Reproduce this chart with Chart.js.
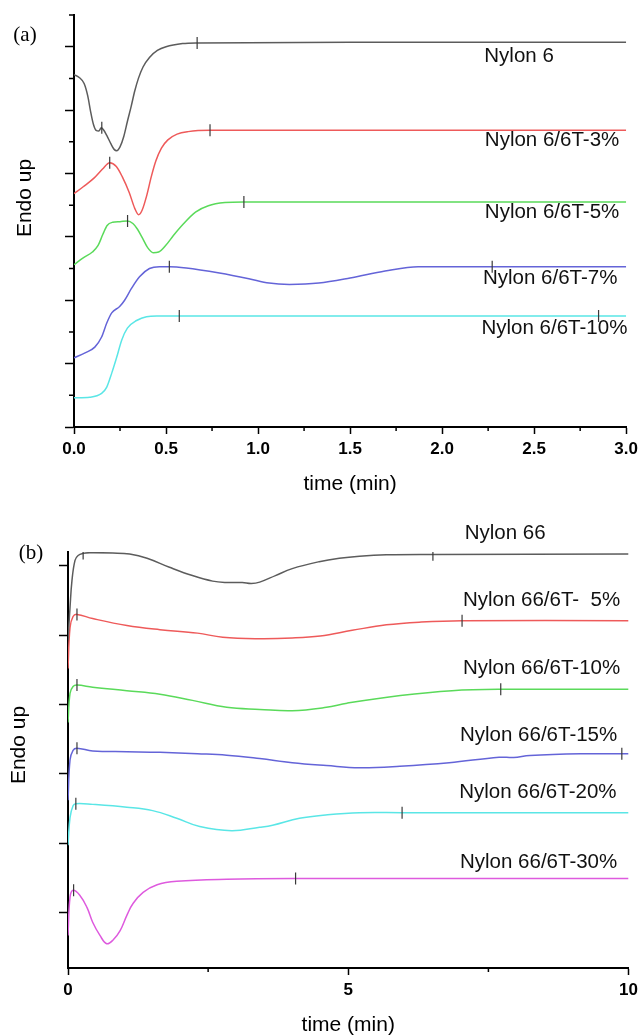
<!DOCTYPE html>
<html><head><meta charset="utf-8">
<script src="https://cdn.jsdelivr.net/npm/chart.js@4"></script>
<style>
html,body{margin:0;padding:0;background:#fff;}
#wrap{position:relative;width:643px;height:1036px;overflow:hidden;}
canvas{position:absolute;left:0;}
#cA{top:0}
#cB{top:500px}
</style></head><body>
<div id="wrap"><canvas id="cA" width="643" height="500"></canvas><canvas id="cB" width="643" height="536"></canvas></div>
<script>
// ---------- Panel (a): time (min) vs heat flow (Endo up, arbitrary offsets) ----------
const nylon6 = [[0,5.56],[0.03,5.51],[0.055,5.42],[0.075,5.22],[0.09,4.98],[0.105,4.78],[0.12,4.68],[0.135,4.67],[0.148,4.72],[0.16,4.69],[0.178,4.6],[0.2,4.47],[0.218,4.38],[0.232,4.36],[0.25,4.42],[0.27,4.58],[0.29,4.82],[0.31,5.05],[0.33,5.3],[0.35,5.5],[0.375,5.68],[0.41,5.83],[0.453,5.94],[0.5,6.0],[0.59,6.05],[0.67,6.06],[1.5,6.07],[3.0,6.07]];
const nylon6T3 = [[0,3.68],[0.05,3.79],[0.11,3.93],[0.155,4.07],[0.194,4.17],[0.23,4.11],[0.262,3.95],[0.3,3.7],[0.33,3.45],[0.351,3.35],[0.37,3.42],[0.395,3.65],[0.42,3.95],[0.445,4.2],[0.475,4.4],[0.51,4.53],[0.56,4.62],[0.62,4.66],[0.74,4.68],[3.0,4.68]];
const nylon6T5 = [[0,2.56],[0.05,2.67],[0.1,2.76],[0.13,2.86],[0.157,3.04],[0.18,3.18],[0.21,3.23],[0.25,3.24],[0.29,3.25],[0.32,3.21],[0.345,3.12],[0.37,2.99],[0.4,2.83],[0.43,2.75],[0.46,2.76],[0.5,2.87],[0.54,3.02],[0.59,3.19],[0.66,3.39],[0.73,3.49],[0.82,3.54],[0.92,3.55],[3.0,3.55]];
const nylon6T7 = [[0,1.09],[0.06,1.17],[0.113,1.26],[0.15,1.42],[0.178,1.64],[0.205,1.80],[0.248,1.90],[0.275,2.0],[0.313,2.19],[0.356,2.37],[0.41,2.5],[0.464,2.53],[0.52,2.53],[0.61,2.51],[0.79,2.43],[0.95,2.34],[1.06,2.27],[1.17,2.25],[1.33,2.27],[1.5,2.35],[1.69,2.46],[1.87,2.53],[2.05,2.53],[3.0,2.53]];
const nylon6T10 = [[0,0.46],[0.086,0.47],[0.15,0.53],[0.178,0.63],[0.205,0.85],[0.232,1.1],[0.259,1.37],[0.29,1.56],[0.34,1.68],[0.394,1.74],[0.45,1.75],[0.57,1.75],[3.0,1.75]];
const markersA = [[0.151,4.72],[0.669,6.06],[0.194,4.17],[0.739,4.68],[0.291,3.25],[0.923,3.55],[0.518,2.53],[2.272,2.53],[0.572,1.75],[2.85,1.75]];
const namesA = ['Nylon 6','Nylon 6/6T-3%','Nylon 6/6T-5%','Nylon 6/6T-7%','Nylon 6/6T-10%'];
const xTicksA = [0,0.5,1.0,1.5,2.0,2.5,3.0];
const xMinorA = [0.25,0.75,1.25,1.75,2.25,2.75];
const yTicksA = [0,1,2,3,4,5,6];
const yMinorA = [0.5,1.5,2.5,3.5,4.5,5.5,6.5];

// ---------- Panel (b) ----------
const nylon66 = [[0,4.93],[0.036,5.40],[0.071,5.79],[0.125,6.08],[0.18,6.15],[0.27,6.18],[0.39,6.19],[0.8,6.185],[1.1,6.17],[1.41,6.11],[1.81,5.98],[2.22,5.86],[2.58,5.78],[2.83,5.76],[3.11,5.76],[3.27,5.745],[3.42,5.765],[3.7,5.86],[4.0,5.96],[4.48,6.06],[4.84,6.11],[5.2,6.14],[5.68,6.16],[6.51,6.165],[10,6.17]];
const nylon66T5 = [[0,4.52],[0.036,5.11],[0.09,5.27],[0.16,5.30],[0.44,5.24],[1.05,5.14],[1.64,5.08],[2.31,5.03],[2.76,4.97],[3.42,4.95],[4.0,4.96],[4.5,4.99],[5.07,5.07],[5.68,5.15],[6.3,5.19],[7.03,5.21],[10,5.21]];
const nylon66T10 = [[0,3.74],[0.036,4.16],[0.09,4.26],[0.16,4.28],[0.44,4.25],[1.05,4.20],[1.64,4.15],[2.22,4.06],[2.83,3.96],[3.42,3.93],[4.0,3.91],[4.61,3.96],[4.98,4.02],[5.93,4.13],[6.85,4.20],[7.72,4.22],[10,4.22]];
const nylon66T15 = [[0,2.62],[0.036,3.20],[0.09,3.34],[0.16,3.37],[0.44,3.33],[1.05,3.32],[1.64,3.31],[2.31,3.29],[2.83,3.27],[3.42,3.22],[4.0,3.16],[4.61,3.12],[5.2,3.09],[5.92,3.11],[6.8,3.16],[7.69,3.24],[7.95,3.235],[8.24,3.265],[9.17,3.29],[9.88,3.29],[10,3.29]];
const nylon66T20 = [[0,1.97],[0.036,2.37],[0.09,2.54],[0.14,2.57],[0.44,2.56],[1.05,2.52],[1.51,2.47],[1.94,2.36],[2.35,2.24],[2.92,2.18],[3.42,2.23],[3.65,2.26],[4.13,2.36],[4.63,2.41],[5.2,2.44],[5.96,2.44],[10,2.44]];
const nylon66T30 = [[0,0.67],[0.036,1.22],[0.09,1.32],[0.21,1.25],[0.34,1.07],[0.44,0.86],[0.57,0.67],[0.69,0.55],[0.8,0.60],[0.93,0.74],[1.05,0.96],[1.16,1.13],[1.34,1.29],[1.59,1.40],[1.94,1.45],[2.83,1.48],[4.06,1.49],[10,1.49]];
const markersB = [[0.27,6.18],[6.51,6.16],[0.16,5.30],[7.03,5.21],[0.16,4.28],[7.72,4.22],[0.16,3.37],[9.88,3.29],[0.14,2.57],[5.96,2.44],[0.1,1.32],[4.06,1.49]];
const namesB = ['Nylon 66','Nylon 66/6T-  5%','Nylon 66/6T-10%','Nylon 66/6T-15%','Nylon 66/6T-20%','Nylon 66/6T-30%'];
const xTicksB = [0,5,10];
const xMinorB = [2.5,7.5];
const yTicksB = [1,2,3,4,5,6];

// ---------- styling / placement (not data) ----------
const colorsA = ['#5c5c5c','#ee5a5a','#5ada5a','#6464d8','#5ae6e6'];
const colorsB = ['#5c5c5c','#ee5a5a','#5ada5a','#6464d8','#5ae6e6','#de5ade'];
const labelAnchorA = [[2.229,5.845],[2.232,4.518],[2.232,3.389],[2.222,2.338],[2.214,1.564]];
const labelAnchorB = [[7.077,6.476],[7.046,5.502],[7.046,4.527],[6.993,3.554],[6.98,2.736],[6.993,1.726]];

Chart.defaults.font.family = '"Liberation Sans", Arial, sans-serif';
Chart.defaults.color = '#000';

const toXY = arr => arr.map(p => ({x: p[0], y: p[1]}));

const minorTicks = {
  id: 'minorTicks',
  afterDraw(chart, args, o) {
    const {ctx, scales: {x, y}} = chart;
    ctx.save();
    ctx.strokeStyle = '#000';
    ctx.lineWidth = 1.5;
    ctx.beginPath();
    (o.x || []).forEach(v => { const px = x.getPixelForValue(v); ctx.moveTo(px, x.top); ctx.lineTo(px, x.top + o.xLen); });
    (o.y || []).forEach(v => { const py = y.getPixelForValue(v); ctx.moveTo(y.right, py); ctx.lineTo(y.right - o.yLen, py); });
    ctx.stroke();
    ctx.restore();
  }
};

const annotations = {
  id: 'annotations',
  afterDraw(chart, args, o) {
    const {ctx, scales: {x, y}} = chart;
    ctx.save();
    ctx.fillStyle = '#111';
    ctx.textBaseline = 'middle';
    ctx.textAlign = 'left';
    ctx.font = '20.5px "Liberation Sans", Arial, sans-serif';
    o.names.forEach((n, i) => {
      ctx.fillText(n, x.getPixelForValue(o.anchors[i][0]), y.getPixelForValue(o.anchors[i][1]));
    });
    ctx.fillStyle = '#000';
    ctx.textAlign = 'center';
    ctx.font = '21px "Liberation Serif", "Times New Roman", serif';
    ctx.fillText(o.panel, o.panelPos[0], o.panelPos[1]);
    ctx.font = '21px "Liberation Sans", Arial, sans-serif';
    ctx.translate(o.yTitlePos[0], o.yTitlePos[1]);
    ctx.rotate(-Math.PI / 2);
    ctx.fillText(o.yTitle, 0, 0);
    ctx.restore();
  }
};

function buildChart(id, series, names, colors, markers, xr, yr, xTicks, yTicks, xFmt, plug, pad, smooth) {
  const datasets = [{
    label: 'markers', data: toXY(markers), showLine: false,
    pointStyle: 'line', rotation: 90, pointRadius: 6, pointHoverRadius: 6,
    borderColor: '#3a3a3a', pointBorderColor: '#3a3a3a', pointBorderWidth: 1.2, borderWidth: 1.2
  }];
  series.forEach((s, i) => datasets.push(Object.assign({
    label: names[i], data: toXY(s), borderColor: colors[i], borderWidth: 1.5,
    pointRadius: 0, fill: false
  }, smooth)));
  return new Chart(document.getElementById(id), {
    type: 'line',
    data: {datasets},
    options: {
      responsive: false, animation: false, devicePixelRatio: 1,
      layout: {padding: pad},
      plugins: {legend: {display: false}, tooltip: {enabled: false}, minorTicks: plug.minor, annotations: plug.annot},
      scales: {
        x: {
          type: 'linear', min: xr[0], max: xr[1],
          afterBuildTicks: s => { s.ticks = xTicks.map(v => ({value: v})); },
          ticks: {callback: xFmt, font: {size: 17, weight: 'bold'}, color: '#000', padding: 5, maxRotation: 0, autoSkip: false},
          grid: {drawOnChartArea: false, drawTicks: true, tickLength: 7, tickColor: '#000', tickWidth: 1.5},
          border: {display: true, color: '#000', width: 2},
          title: {display: true, text: 'time (min)', font: {size: 21, lineHeight: 0.8}, color: '#000', padding: {top: 11.2, bottom: 0}}
        },
        y: {
          type: 'linear', min: yr[0], max: yr[1],
          afterBuildTicks: s => { s.ticks = yTicks.map(v => ({value: v})); },
          ticks: {display: false},
          grid: {drawOnChartArea: false, drawTicks: true, tickLength: 9, tickColor: '#000', tickWidth: 1.5},
          border: {display: true, color: '#000', width: 2}
        }
      }
    },
    plugins: [minorTicks, annotations]
  });
}

buildChart('cA', [nylon6, nylon6T3, nylon6T5, nylon6T7, nylon6T10], namesA, colorsA, markersA,
  [0, 3], [0, 6.5], xTicksA, yTicksA, v => Number(v).toFixed(1),
  {minor: {x: xMinorA, y: yMinorA, xLen: 4, yLen: 5},
   annot: {names: namesA, anchors: labelAnchorA, panel: '(a)', panelPos: [25, 35], yTitle: 'Endo up', yTitlePos: [25, 198]}},
  {left: 65, right: 13, top: 15, bottom: 7.6},
  {cubicInterpolationMode: 'monotone'});

buildChart('cB', [nylon66, nylon66T5, nylon66T10, nylon66T15, nylon66T20, nylon66T30], namesB, colorsB, markersB,
  [0, 10], [0.2, 6.2], xTicksB, yTicksB, v => String(v),
  {minor: {x: xMinorB, y: [], xLen: 4, yLen: 5},
   annot: {names: namesB, anchors: labelAnchorB, panel: '(b)', panelPos: [31, 53], yTitle: 'Endo up', yTitlePos: [19, 245]}},
  {left: 59, right: 13, top: 52, bottom: 2.6},
  {tension: 0.4});
</script>
</body></html>
